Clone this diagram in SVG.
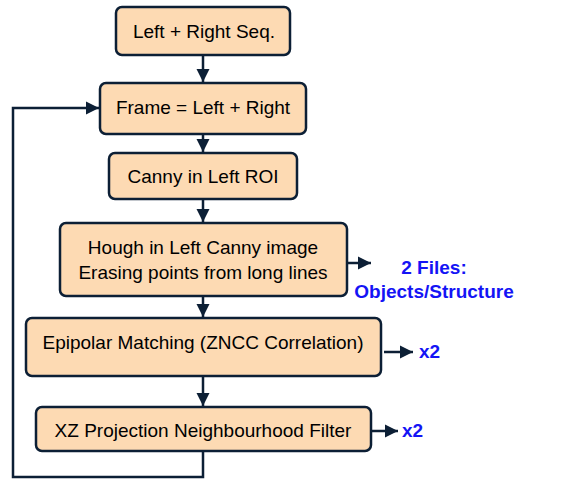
<svg xmlns="http://www.w3.org/2000/svg" width="583" height="479" viewBox="0 0 583 479">
<defs>
<style>
.box{fill:#fddab3;stroke:#0c1f35;stroke-width:2.5}
.t{font-family:"Liberation Sans",Arial,sans-serif;font-size:19px;fill:#000;text-anchor:middle}
.b{font-family:"Liberation Sans",Arial,sans-serif;font-size:19px;font-weight:bold;fill:#1414f5}
.c{fill:none;stroke:#0c1f35;stroke-width:2.5}
</style>
<marker id="ah" viewBox="0 0 10 10" refX="10" refY="5" markerWidth="5.4" markerHeight="5.4" markerUnits="strokeWidth" orient="auto">
<path d="M0,0 L10,5 L0,10 z" fill="#0c1f35"/>
</marker>
</defs>
<g id="connectors">
<line class="c" x1="203" y1="55" x2="203" y2="82" marker-end="url(#ah)"/>
<line class="c" x1="203" y1="134" x2="203" y2="152" marker-end="url(#ah)"/>
<line class="c" x1="203" y1="199" x2="203" y2="222" marker-end="url(#ah)"/>
<line class="c" x1="203" y1="296" x2="203" y2="317" marker-end="url(#ah)"/>
<line class="c" x1="203" y1="376" x2="203" y2="406" marker-end="url(#ah)"/>
<polyline class="c" points="203,451 203,477 13,477 13,108 99,108" marker-end="url(#ah)"/>
<line class="c" x1="347" y1="263" x2="371" y2="263" marker-end="url(#ah)"/>
<line class="c" x1="384" y1="352" x2="413" y2="352" marker-end="url(#ah)"/>
<line class="c" x1="371" y1="431" x2="398" y2="431" marker-end="url(#ah)"/>
</g>
<g id="n1"><rect class="box" x="116" y="7" width="174" height="48" rx="6"/><text class="t" x="204" y="38">Left + Right Seq.</text></g>
<g id="n2"><rect class="box" x="100" y="83" width="206" height="51" rx="6"/><text class="t" x="203" y="114">Frame = Left + Right</text></g>
<g id="n3"><rect class="box" x="109" y="153" width="188" height="46" rx="6"/><text class="t" x="203" y="183">Canny in Left ROI</text></g>
<g id="n4"><rect class="box" x="60" y="223" width="287" height="73" rx="6"/><text class="t" x="203" y="254">Hough in Left Canny image</text><text class="t" x="203" y="279">Erasing points from long lines</text></g>
<g id="n5"><rect class="box" x="26" y="318" width="355" height="58" rx="6"/><text class="t" x="203" y="349">Epipolar Matching (ZNCC Correlation)</text></g>
<g id="n6"><rect class="box" x="36" y="407" width="335" height="44" rx="6"/><text class="t" x="203" y="437">XZ Projection Neighbourhood Filter</text></g>
<g id="labels">
<text class="b" x="434" y="274" text-anchor="middle">2 Files:</text>
<text class="b" x="434" y="298" text-anchor="middle">Objects/Structure</text>
<text class="b" x="419" y="358">x2</text>
<text class="b" x="402" y="437">x2</text>
</g>
</svg>
